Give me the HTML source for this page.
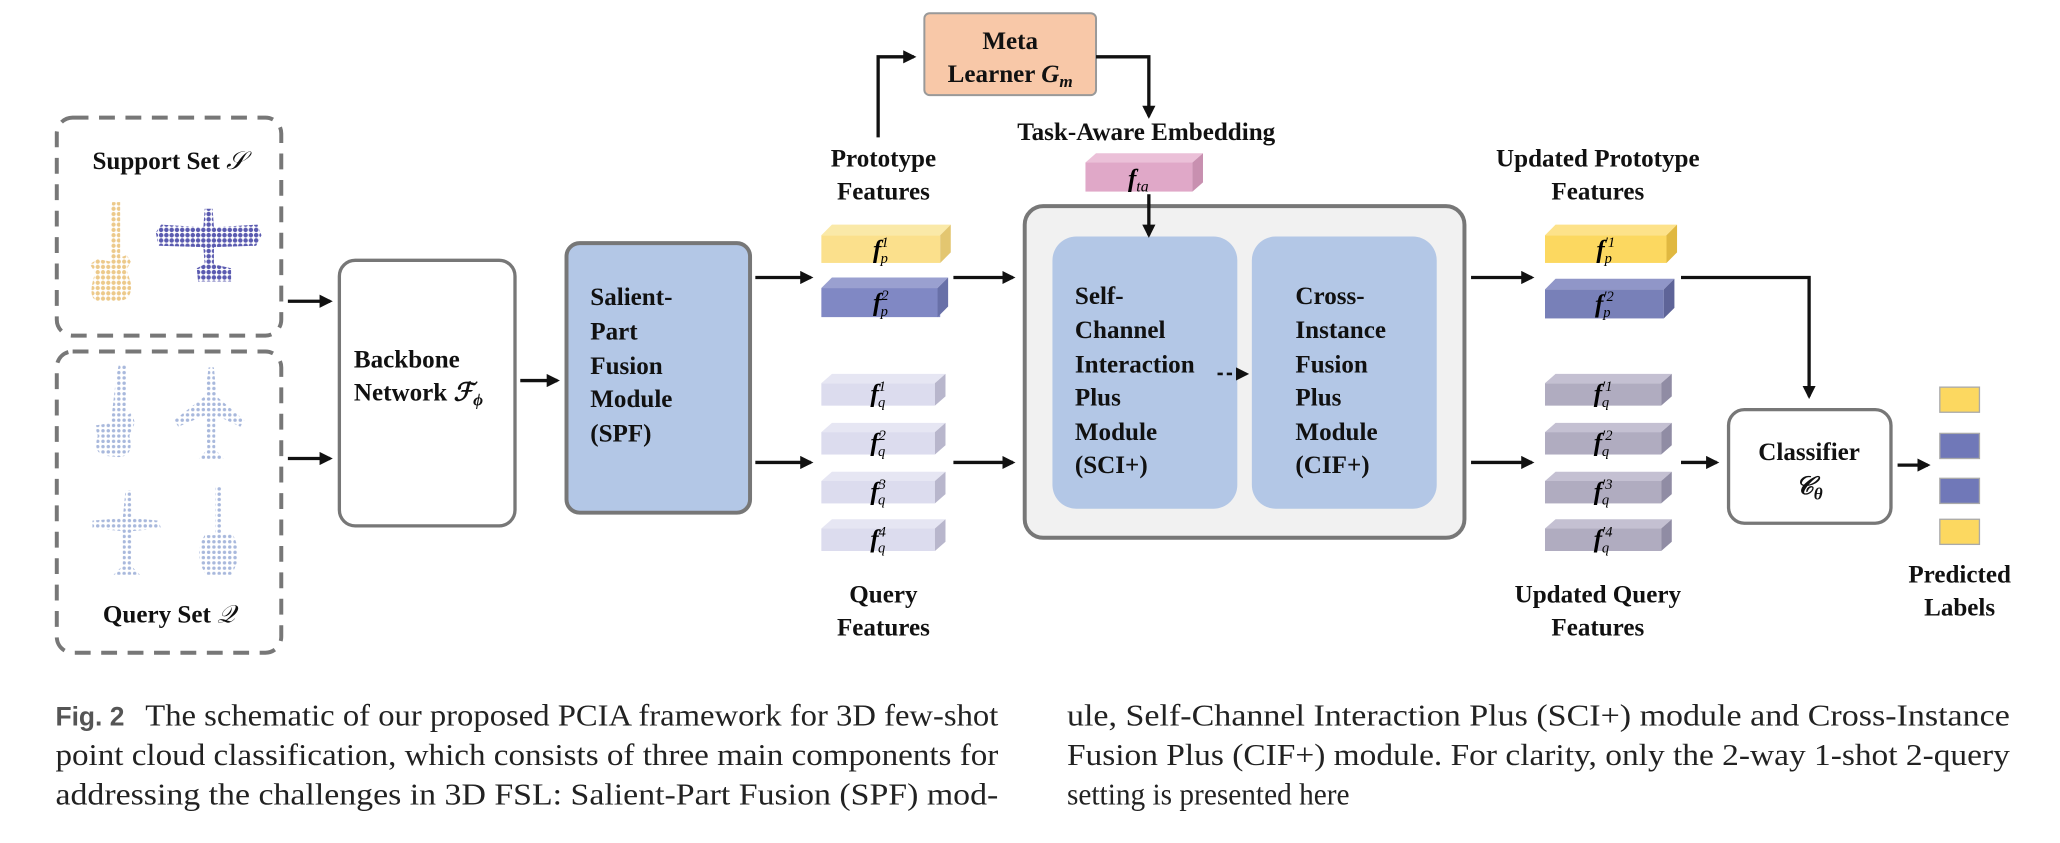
<!DOCTYPE html>
<html><head><meta charset="utf-8"><style>
html,body{margin:0;padding:0;background:#fff;}
svg{display:block;}
text{font-family:"Liberation Serif",serif;}
.b{font-weight:bold;font-size:19px;fill:#111;}
.cap{font-size:23px;fill:#222;}
.fig{font-family:"Liberation Sans",sans-serif;font-weight:bold;font-size:20px;fill:#555;}
</style></head><body>
<svg width="2060" height="843" viewBox="0 0 1560 638" preserveAspectRatio="none" xmlns="http://www.w3.org/2000/svg">
<defs>
<marker id="ah" markerWidth="10" markerHeight="10" refX="8" refY="5" orient="auto" markerUnits="userSpaceOnUse"><path d="M0,0 L10,5 L0,10 z" fill="#111"/></marker>
<pattern id="dy" width="4" height="4" patternUnits="userSpaceOnUse"><rect width="4" height="4" fill="#fff"/><circle cx="2" cy="2" r="1.6" fill="#ecc98a"/></pattern>
<pattern id="dp" width="4" height="4" patternUnits="userSpaceOnUse"><rect width="4" height="4" fill="#fff"/><circle cx="2" cy="2" r="1.7" fill="#5a5ab0"/></pattern>
<pattern id="dl" width="4" height="4" patternUnits="userSpaceOnUse"><rect width="4" height="4" fill="#fff"/><circle cx="2" cy="2" r="1.3" fill="#a8b8dc"/></pattern>
</defs>

<rect x="43" y="89" width="170" height="165" rx="12" fill="none" stroke="#777" stroke-width="3" stroke-dasharray="12,8"/>
<rect x="43" y="266" width="170" height="228" rx="12" fill="none" stroke="#777" stroke-width="3" stroke-dasharray="12,8"/>
<text class="b" x="128" y="128" text-anchor="middle">Support Set <tspan font-style="italic" font-weight="normal">𝒮</tspan></text>
<text class="b" x="128" y="471" text-anchor="middle">Query Set <tspan font-style="italic" font-weight="normal">𝒬</tspan></text>

<path d="M85,153 L91,153 L91,195 L96,193 L99,198 L96,204 L99,214 Q101,228 88,228 L76,228 Q67,228 70,214 L72,206 L68,200 L74,196 L84,198 L84,158 z" fill="url(#dy)"/>
<path d="M155,158 L161,158 L162,172 L195,170 L198,178 L194,186 L162,187 L162,200 L175,203 L175,213 L150,213 L149,203 L155,200 L154,187 L120,186 L118,176 L122,170 L154,172 z" fill="url(#dp)"/>
<path d="M90,276 L96,276 L95,315 L100,312 L102,320 L98,330 Q102,345 90,346 L80,345 Q70,343 74,330 L72,322 L84,320 L88,285 z" fill="url(#dl)"/>
<path d="M158,278 L162,278 L164,300 L185,318 L182,323 L163,314 L163,340 L170,348 L150,348 L157,340 L156,314 L135,323 L132,318 L155,300 z" fill="url(#dl)"/>
<path d="M95,371 L99,371 L100,392 L120,394 L122,400 L100,402 L99,428 L106,435 L86,435 L93,428 L93,402 L70,400 L70,394 L93,392 z" fill="url(#dl)"/>
<path d="M163,368 L168,368 L168,405 L176,404 Q185,420 175,435 L156,435 Q146,420 155,405 L163,405 z" fill="url(#dl)"/>

<line x1="218" y1="228" x2="250" y2="228" stroke="#111" stroke-width="2.5" marker-end="url(#ah)"/>
<line x1="218" y1="347" x2="250" y2="347" stroke="#111" stroke-width="2.5" marker-end="url(#ah)"/>

<rect x="257" y="197" width="133" height="201" rx="12" fill="#fff" stroke="#777" stroke-width="2.5"/>
<text class="b" x="268" y="278">Backbone</text>
<text class="b" x="268" y="303">Network <tspan font-style="italic">ℱ</tspan><tspan font-size="13" dy="4" font-style="italic">ϕ</tspan></text>
<line x1="394" y1="288" x2="422" y2="288" stroke="#111" stroke-width="2.5" marker-end="url(#ah)"/>

<rect x="429" y="184" width="139" height="204" rx="10" fill="#b3c7e6" stroke="#777" stroke-width="3"/>
<text class="b" x="447" y="231">Salient-</text>
<text class="b" x="447" y="257">Part</text>
<text class="b" x="447" y="283">Fusion</text>
<text class="b" x="447" y="308">Module</text>
<text class="b" x="447" y="334">(SPF)</text>

<line x1="572" y1="210" x2="614" y2="210" stroke="#111" stroke-width="2.5" marker-end="url(#ah)"/>
<line x1="572" y1="350" x2="614" y2="350" stroke="#111" stroke-width="2.5" marker-end="url(#ah)"/>

<text class="b" x="669" y="126" text-anchor="middle">Prototype</text>
<text class="b" x="669" y="151" text-anchor="middle">Features</text>
<g>
<rect x="622" y="178" width="90" height="21" fill="#fbe08c"/><path d="M622,178 L630,170 L720,170 L712,178 z" fill="#fae9a8"/><path d="M712,178 L720,170 L720,191 L712,199 z" fill="#e3c670"/>
<text x="667" y="195" text-anchor="middle" font-size="19" font-weight="bold" font-style="italic">f<tspan font-size="11" dy="-8" font-weight="normal">1</tspan><tspan font-size="11" dy="12" dx="-6" font-weight="normal">p</tspan></text>
<rect x="622" y="218" width="90" height="22" fill="#8088c4"/><path d="M622,218 L630,210 L718,210 L710,218 z" fill="#9aa0d0"/><path d="M710,218 L718,210 L718,232 L710,240 z" fill="#6870a8"/>
<text x="667" y="235" text-anchor="middle" font-size="19" font-weight="bold" font-style="italic">f<tspan font-size="11" dy="-8" font-weight="normal">2</tspan><tspan font-size="11" dy="12" dx="-6" font-weight="normal">p</tspan></text>
</g>
<g font-size="19">
<g><rect x="622" y="290" width="86" height="17" fill="#dcdcee"/><path d="M622,290 L630,283 L716,283 L708,290 z" fill="#e6e6f3"/><path d="M708,290 L716,283 L716,300 L708,307 z" fill="#b8b6cc"/>
<text x="665" y="304" text-anchor="middle" font-weight="bold" font-style="italic">f<tspan font-size="11" dy="-8" font-weight="normal">1</tspan><tspan font-size="11" dy="12" dx="-6" font-weight="normal">q</tspan></text></g>
<g><rect x="622" y="327" width="86" height="17" fill="#dcdcee"/><path d="M622,327 L630,320 L716,320 L708,327 z" fill="#e6e6f3"/><path d="M708,327 L716,320 L716,337 L708,344 z" fill="#b8b6cc"/>
<text x="665" y="341" text-anchor="middle" font-weight="bold" font-style="italic">f<tspan font-size="11" dy="-8" font-weight="normal">2</tspan><tspan font-size="11" dy="12" dx="-6" font-weight="normal">q</tspan></text></g>
<g><rect x="622" y="364" width="86" height="17" fill="#dcdcee"/><path d="M622,364 L630,357 L716,357 L708,364 z" fill="#e6e6f3"/><path d="M708,364 L716,357 L716,374 L708,381 z" fill="#b8b6cc"/>
<text x="665" y="378" text-anchor="middle" font-weight="bold" font-style="italic">f<tspan font-size="11" dy="-8" font-weight="normal">3</tspan><tspan font-size="11" dy="12" dx="-6" font-weight="normal">q</tspan></text></g>
<g><rect x="622" y="400" width="86" height="17" fill="#dcdcee"/><path d="M622,400 L630,393 L716,393 L708,400 z" fill="#e6e6f3"/><path d="M708,400 L716,393 L716,410 L708,417 z" fill="#b8b6cc"/>
<text x="665" y="414" text-anchor="middle" font-weight="bold" font-style="italic">f<tspan font-size="11" dy="-8" font-weight="normal">4</tspan><tspan font-size="11" dy="12" dx="-6" font-weight="normal">q</tspan></text></g>
</g>
<text class="b" x="669" y="456" text-anchor="middle">Query</text>
<text class="b" x="669" y="481" text-anchor="middle">Features</text>

<polyline points="665,104 665,43 692,43" fill="none" stroke="#111" stroke-width="2.5" marker-end="url(#ah)"/>
<rect x="700" y="10" width="130" height="62" rx="4" fill="#f8c8a8" stroke="#999" stroke-width="1.5"/>
<text class="b" x="765" y="37" text-anchor="middle">Meta</text>
<text class="b" x="765" y="62" text-anchor="middle">Learner <tspan font-style="italic">G</tspan><tspan font-size="13" dy="4" font-style="italic">m</tspan></text>
<polyline points="830,43 870,43 870,88" fill="none" stroke="#111" stroke-width="2.5" marker-end="url(#ah)"/>
<text class="b" x="868" y="106" text-anchor="middle">Task-Aware Embedding</text>
<rect x="822" y="123" width="81" height="22" fill="#e0a8c8"/><path d="M822,123 L830,116 L911,116 L903,123 z" fill="#ebc0d8"/><path d="M903,123 L911,116 L911,138 L903,145 z" fill="#c890b0"/>
<text x="862" y="141" text-anchor="middle" font-size="19" font-weight="bold" font-style="italic">f<tspan font-size="12" dy="4" font-weight="normal">ta</tspan></text>

<line x1="722" y1="210" x2="767" y2="210" stroke="#111" stroke-width="2.5" marker-end="url(#ah)"/>
<line x1="722" y1="350" x2="767" y2="350" stroke="#111" stroke-width="2.5" marker-end="url(#ah)"/>

<rect x="776" y="156" width="333" height="251" rx="14" fill="#f1f1f1" stroke="#777" stroke-width="3"/>
<rect x="797" y="179" width="140" height="206" rx="18" fill="#b3c7e6"/>
<rect x="948" y="179" width="140" height="206" rx="18" fill="#b3c7e6"/>
<line x1="870" y1="147" x2="870" y2="178" stroke="#111" stroke-width="2.5" marker-end="url(#ah)"/>
<text class="b" x="814" y="230">Self-</text>
<text class="b" x="814" y="256">Channel</text>
<text class="b" x="814" y="282">Interaction</text>
<text class="b" x="814" y="307">Plus</text>
<text class="b" x="814" y="333">Module</text>
<text class="b" x="814" y="358">(SCI+)</text>
<text class="b" x="981" y="230">Cross-</text>
<text class="b" x="981" y="256">Instance</text>
<text class="b" x="981" y="282">Fusion</text>
<text class="b" x="981" y="307">Plus</text>
<text class="b" x="981" y="333">Module</text>
<text class="b" x="981" y="358">(CIF+)</text>
<line x1="922" y1="283" x2="944" y2="283" stroke="#111" stroke-width="2" stroke-dasharray="4,3" marker-end="url(#ah)"/>

<line x1="1114" y1="210" x2="1160" y2="210" stroke="#111" stroke-width="2.5" marker-end="url(#ah)"/>
<line x1="1114" y1="350" x2="1160" y2="350" stroke="#111" stroke-width="2.5" marker-end="url(#ah)"/>

<text class="b" x="1210" y="126" text-anchor="middle">Updated Prototype</text>
<text class="b" x="1210" y="151" text-anchor="middle">Features</text>
<rect x="1170" y="178" width="92" height="21" fill="#fcd860"/><path d="M1170,178 L1178,170 L1270,170 L1262,178 z" fill="#fde28a"/><path d="M1262,178 L1270,170 L1270,191 L1262,199 z" fill="#e0b840"/>
<text x="1216" y="195" text-anchor="middle" font-size="19" font-weight="bold" font-style="italic">f<tspan font-size="11" dy="-8" font-weight="normal">′1</tspan><tspan font-size="11" dy="12" dx="-8" font-weight="normal">p</tspan></text>
<rect x="1170" y="219" width="90" height="22" fill="#7880b8"/><path d="M1170,219 L1178,211 L1268,211 L1260,219 z" fill="#9096c8"/><path d="M1260,219 L1268,211 L1268,233 L1260,241 z" fill="#5e6498"/>
<text x="1215" y="236" text-anchor="middle" font-size="19" font-weight="bold" font-style="italic">f<tspan font-size="11" dy="-8" font-weight="normal">′2</tspan><tspan font-size="11" dy="12" dx="-8" font-weight="normal">p</tspan></text>
<g font-size="19">
<g><rect x="1170" y="290" width="88" height="17" fill="#b0acc0"/><path d="M1170,290 L1178,283 L1266,283 L1258,290 z" fill="#c4c0d2"/><path d="M1258,290 L1266,283 L1266,300 L1258,307 z" fill="#908ca4"/>
<text x="1214" y="304" text-anchor="middle" font-weight="bold" font-style="italic">f<tspan font-size="11" dy="-8" font-weight="normal">′1</tspan><tspan font-size="11" dy="12" dx="-8" font-weight="normal">q</tspan></text></g>
<g><rect x="1170" y="327" width="88" height="17" fill="#b0acc0"/><path d="M1170,327 L1178,320 L1266,320 L1258,327 z" fill="#c4c0d2"/><path d="M1258,327 L1266,320 L1266,337 L1258,344 z" fill="#908ca4"/>
<text x="1214" y="341" text-anchor="middle" font-weight="bold" font-style="italic">f<tspan font-size="11" dy="-8" font-weight="normal">′2</tspan><tspan font-size="11" dy="12" dx="-8" font-weight="normal">q</tspan></text></g>
<g><rect x="1170" y="364" width="88" height="17" fill="#b0acc0"/><path d="M1170,364 L1178,357 L1266,357 L1258,364 z" fill="#c4c0d2"/><path d="M1258,364 L1266,357 L1266,374 L1258,381 z" fill="#908ca4"/>
<text x="1214" y="378" text-anchor="middle" font-weight="bold" font-style="italic">f<tspan font-size="11" dy="-8" font-weight="normal">′3</tspan><tspan font-size="11" dy="12" dx="-8" font-weight="normal">q</tspan></text></g>
<g><rect x="1170" y="400" width="88" height="17" fill="#b0acc0"/><path d="M1170,400 L1178,393 L1266,393 L1258,400 z" fill="#c4c0d2"/><path d="M1258,400 L1266,393 L1266,410 L1258,417 z" fill="#908ca4"/>
<text x="1214" y="414" text-anchor="middle" font-weight="bold" font-style="italic">f<tspan font-size="11" dy="-8" font-weight="normal">′4</tspan><tspan font-size="11" dy="12" dx="-8" font-weight="normal">q</tspan></text></g>
</g>
<text class="b" x="1210" y="456" text-anchor="middle">Updated Query</text>
<text class="b" x="1210" y="481" text-anchor="middle">Features</text>

<polyline points="1273,210 1370,210 1370,300" fill="none" stroke="#111" stroke-width="2.5" marker-end="url(#ah)"/>
<line x1="1273" y1="350" x2="1300" y2="350" stroke="#111" stroke-width="2.5" marker-end="url(#ah)"/>

<rect x="1309" y="310" width="123" height="86" rx="12" fill="#fff" stroke="#777" stroke-width="2.5"/>
<text class="b" x="1370" y="348" text-anchor="middle">Classifier</text>
<text class="b" x="1370" y="374" text-anchor="middle" font-style="italic">𝒞<tspan font-size="13" dy="4">θ</tspan></text>
<line x1="1437" y1="352" x2="1460" y2="352" stroke="#111" stroke-width="2.5" marker-end="url(#ah)"/>

<rect x="1469" y="293" width="30" height="19" fill="#fcd860" stroke="#aaa"/>
<rect x="1469" y="328" width="30" height="19" fill="#7078b8" stroke="#aaa"/>
<rect x="1469" y="362" width="30" height="19" fill="#7078b8" stroke="#aaa"/>
<rect x="1469" y="393" width="30" height="19" fill="#fcd860" stroke="#aaa"/>
<text class="b" x="1484" y="441" text-anchor="middle">Predicted</text>
<text class="b" x="1484" y="466" text-anchor="middle">Labels</text>

<text class="fig" x="42" y="549">Fig. 2</text>
<text class="cap" x="110" y="549" textLength="646" lengthAdjust="spacingAndGlyphs">The schematic of our proposed PCIA framework for 3D few-shot</text>
<text class="cap" x="42" y="579" textLength="714" lengthAdjust="spacingAndGlyphs">point cloud classification, which consists of three main components for</text>
<text class="cap" x="42" y="609" textLength="714" lengthAdjust="spacingAndGlyphs">addressing the challenges in 3D FSL: Salient-Part Fusion (SPF) mod-</text>
<text class="cap" x="808" y="549" textLength="714" lengthAdjust="spacingAndGlyphs">ule, Self-Channel Interaction Plus (SCI+) module and Cross-Instance</text>
<text class="cap" x="808" y="579" textLength="714" lengthAdjust="spacingAndGlyphs">Fusion Plus (CIF+) module. For clarity, only the 2-way 1-shot 2-query</text>
<text class="cap" x="808" y="609" textLength="214" lengthAdjust="spacingAndGlyphs">setting is presented here</text>
</svg>
</body></html>
